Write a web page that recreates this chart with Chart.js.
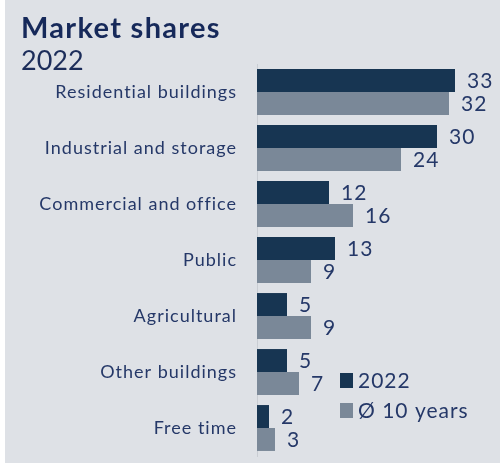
<!DOCTYPE html>
<html>
<head>
<meta charset="utf-8">
<script src="https://cdn.jsdelivr.net/npm/chart.js@4"></script>
<style>
  html, body { margin: 0; padding: 0; background: #ffffff; }
  #wrap { position: absolute; left: 5px; top: 0; width: 495px; height: 463px; background: #dee1e6; }
  #chart { position: absolute; left: 0; top: 0; }
  .title { position: absolute; left: 16px; top: 9px; line-height: 1; letter-spacing: 1.3px; font: bold 29px Lato, sans-serif; color: #16295a; }
  .sub { position: absolute; left: 16px; top: 43px; line-height: 1; font: 27px Lato, sans-serif; color: #1c2d5a; }
</style>
</head>
<body>
<div id="wrap">
  <canvas id="chart" width="495" height="463"></canvas>
  <div class="title">Market shares</div>
  <div class="sub">2022</div>
</div>
<script>
// data
var categories = ["Residential buildings", "Industrial and storage", "Commercial and office",
                  "Public", "Agricultural", "Other buildings", "Free time"];
var share_2022 = [33, 30, 12, 13, 5, 5, 2];
var share_10y  = [32, 24, 16, 9, 9, 7, 3];
var series_names = ["2022", "Ø 10 years"];
var colours = ["#173552", "#7a8898"];

var textColour = "#253868";

// the source font is set wide, so space the letters a bit
var spacing = {
  id: 'spacing',
  beforeDraw: function(chart) { chart.ctx.letterSpacing = '1px'; }
};

// value at the end of each bar
var valueLabels = {
  id: 'valueLabels',
  afterDatasetsDraw: function(chart) {
    var ctx = chart.ctx;
    ctx.save();
    ctx.letterSpacing = '1px';
    ctx.font = '21px Lato, sans-serif';
    ctx.fillStyle = textColour;
    ctx.textAlign = 'left';
    ctx.textBaseline = 'middle';
    chart.data.datasets.forEach(function(ds, i) {
      chart.getDatasetMeta(i).data.forEach(function(bar, j) {
        ctx.fillText(ds.data[j], bar.x + 12, bar.y + 1);
      });
    });
    ctx.restore();
  }
};

// legend sitting inside the plot, bottom right
var boxLegend = {
  id: 'boxLegend',
  afterDraw: function(chart) {
    var ctx = chart.ctx;
    ctx.save();
    ctx.letterSpacing = '1px';
    ctx.font = '21px Lato, sans-serif';
    ctx.textBaseline = 'middle';
    chart.data.datasets.forEach(function(ds, i) {
      var y = 380 + i * 30;
      ctx.fillStyle = ds.backgroundColor;
      ctx.fillRect(335, y - 7, 13, 15);
      ctx.fillStyle = textColour;
      ctx.fillText(ds.label, 353, y + 1);
    });
    ctx.restore();
  }
};

new Chart(document.getElementById("chart"), {
  type: 'bar',
  data: {
    labels: categories,
    datasets: [{
        label: series_names[0],
        data: share_2022,
        backgroundColor: colours[0]
      }, {
        label: series_names[1],
        data: share_10y,
        backgroundColor: colours[1]
      }
    ]
  },
  options: {
    indexAxis: 'y',
    responsive: false,
    animation: false,
    layout: { padding: { top: 64, bottom: 7, right: 3, left: 0 } },
    categoryPercentage: 0.82,
    barPercentage: 1,
    plugins: {
      legend: { display: false },
      tooltip: { enabled: false }
    },
    scales: {
      x: {
        display: false,
        min: 0,
        max: 40
      },
      y: {
        grid: { display: false },
        border: { display: true, color: '#c9cdd3', width: 1 },
        ticks: {
          color: textColour,
          font: { family: 'Lato, sans-serif', size: 18 },
          padding: 12
        },
        afterFit: function(scale) {
          scale.width = 252;
          scale.paddingTop = 0;
          scale.paddingBottom = 0;
        }
      }
    }
  },
  plugins: [spacing, valueLabels, boxLegend]
});
</script>
</body>
</html>
